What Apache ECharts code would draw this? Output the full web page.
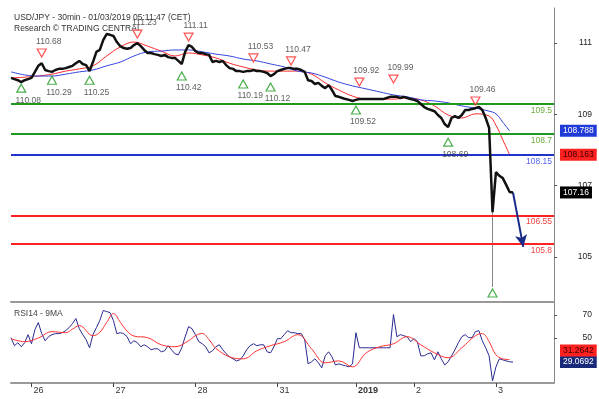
<!DOCTYPE html>
<html>
<head>
<meta charset="utf-8">
<script src="https://cdn.jsdelivr.net/npm/echarts@6/dist/echarts.min.js"></script>
<style>
	html, body { margin: 0; padding: 0; background: #fff; }
	#chart { width: 599px; height: 399px; }
</style>
</head>
<body>
<div id="chart"></div>
<script>
/* hourly bars, day boundaries on the time axis */
const barCount = 160;
const dayStart = [6, 30, 54, 78, 101, 118, 142];
const dayLabels = ['26', '27', '28', '31', '2019', '2', '3'];

/* USD/JPY closes */
const closes = [
	110.19, 110.16, 110.13, 110.08, 110.13, 110.16, 110.19, 110.35, 110.51, 110.58,
	110.40, 110.37, 110.35, 110.40, 110.43, 110.43, 110.45, 110.48, 110.51, 110.58,
	110.64, 110.56, 110.53, 110.37, 110.61, 110.88, 110.93, 111.19, 111.35, 111.33,
	111.30, 111.14, 111.03, 110.98, 110.96, 110.98, 111.06, 111.11, 111.03, 110.93,
	110.85, 110.85, 110.82, 110.80, 110.77, 110.80, 110.74, 110.72, 110.72, 110.64,
	110.56, 110.88, 111.06, 111.01, 110.90, 110.85, 110.85, 110.82, 110.80, 110.61,
	110.64, 110.61, 110.64, 110.53, 110.45, 110.43, 110.37, 110.37, 110.35, 110.37,
	110.37, 110.40, 110.37, 110.37, 110.35, 110.32, 110.24, 110.29, 110.37, 110.40,
	110.43, 110.45, 110.45, 110.43, 110.43, 110.40, 110.35, 110.13, 110.11, 110.03,
	110.06, 109.98, 109.92, 110.00, 109.87, 109.71, 109.69, 109.66, 109.63, 109.61,
	109.58, 109.61, 109.63, 109.63, 109.63, 109.63, 109.63, 109.63, 109.63, 109.63,
	109.66, 109.69, 109.69, 109.69, 109.66, 109.69, 109.66, 109.63, 109.61, 109.58,
	109.50, 109.42, 109.37, 109.34, 109.31, 109.21, 109.13, 108.97, 108.89, 109.13,
	109.18, 109.13, 109.21, 109.34, 109.34, 109.37, 109.39, 109.42, 109.34, 109.13,
	108.87, 106.64, 107.70, 107.60, 107.54, 107.36, 107.17, 107.16
];
/* flash crash wick */
const crashIdx = 141;
const crashLow = 104.66;

/* moving averages [bar, value] */
const maFast = [
	[0, 110.19], [4, 110.21], [8, 110.24], [12, 110.29], [16, 110.37], [20, 110.43],
	[24, 110.51], [28, 110.77], [32, 111.01], [36, 111.14], [40, 111.03], [44, 110.90],
	[48, 110.77], [52, 110.85], [56, 110.80], [60, 110.72], [64, 110.58], [68, 110.48],
	[72, 110.40], [76, 110.37], [80, 110.37], [84, 110.37], [88, 110.29], [92, 110.06],
	[96, 109.87], [100, 109.71], [104, 109.63], [108, 109.63], [112, 109.63], [116, 109.66],
	[120, 109.61], [124, 109.45], [128, 109.21], [132, 109.13], [136, 109.24], [140, 109.18],
	[142, 108.94], [144, 108.55], [146, 108.163]
];
const maSlow = [
	[0, 110.35], [4, 110.27], [8, 110.24], [12, 110.24], [16, 110.29], [20, 110.35],
	[24, 110.40], [28, 110.51], [32, 110.61], [36, 110.77], [40, 110.88], [44, 110.90],
	[48, 110.93], [52, 110.93], [56, 110.88], [60, 110.82], [64, 110.77], [68, 110.69],
	[72, 110.64], [76, 110.56], [80, 110.48], [84, 110.37], [88, 110.32], [92, 110.21],
	[96, 110.08], [100, 109.98], [104, 109.90], [108, 109.82], [112, 109.74], [116, 109.69],
	[120, 109.61], [124, 109.58], [128, 109.53], [132, 109.45], [136, 109.39], [140, 109.31],
	[142, 109.24], [144, 109.02], [146, 108.788]
];

/* RSI14 and its 9MA */
const rsi = [
	50.3, 43.3, 45.9, 42.4, 45.9, 52.9, 45.0, 57.3, 63.4, 53.8,
	47.6, 51.1, 52.9, 53.8, 53.8, 54.6, 56.4, 59.0, 62.5, 66.9,
	58.1, 52.9, 48.5, 41.5, 52.9, 59.0, 65.1, 73.9, 73.0, 72.1,
	65.1, 53.8, 54.6, 53.8, 51.1, 45.0, 47.6, 45.9, 42.4, 44.1,
	42.4, 39.8, 40.6, 40.6, 38.0, 38.9, 43.3, 39.8, 36.3, 35.4,
	41.5, 51.1, 59.9, 58.1, 52.9, 46.8, 45.0, 42.4, 37.1, 38.9,
	42.4, 44.1, 39.8, 36.3, 33.6, 31.9, 30.1, 31.0, 34.5, 39.8,
	43.3, 45.0, 43.3, 44.1, 44.1, 38.0, 37.1, 42.4, 49.4, 49.4,
	52.9, 56.4, 54.6, 54.6, 53.8, 53.8, 48.5, 27.5, 29.3, 31.9,
	28.4, 24.0, 34.5, 38.0, 33.6, 26.6, 27.5, 26.6, 25.8, 24.9,
	27.5, 54.6, 41.5, 41.5, 41.5, 41.5, 41.5, 41.5, 41.5, 41.5,
	41.5, 41.5, 70.4, 51.1, 52.9, 52.0, 51.1, 46.8, 49.4, 46.8,
	34.5, 34.5, 36.3, 37.1, 31.0, 38.0, 31.9, 26.6, 29.3, 34.5,
	39.8, 45.9, 51.1, 52.9, 50.3, 50.3, 55.5, 56.4, 47.6, 41.5,
	34.5, 12.6, 24.9, 31.9, 31.0, 30.1, 29.3, 29.07
];
const rsiMa = [
	[0, 49.4], [4, 46.8], [8, 50.0], [12, 55.5], [16, 54.6], [18, 57.7], [20, 60.8],
	[24, 52.0], [26, 54.9], [28, 63.4], [30, 71.2], [32, 63.7], [34, 56.0], [36, 51.7],
	[40, 50.3], [44, 44.1], [48, 42.4], [52, 47.6], [54, 52.0], [56, 53.9], [58, 48.5],
	[60, 41.0], [64, 33.6], [68, 31.9], [72, 38.9], [76, 43.3], [80, 46.8], [84, 52.9],
	[88, 40.6], [92, 28.4], [96, 30.1], [100, 24.9], [104, 37.1], [108, 42.4], [112, 45.0],
	[116, 51.1], [120, 44.1], [124, 37.1], [128, 32.8], [132, 41.5], [136, 52.0], [138, 53.8],
	[140, 46.8], [142, 35.4], [144, 31.9], [146, 31.26]
];

/* pivots: highs and lows */
const highIdx = [9, 37, 52, 71, 82, 102, 112, 136];
const highVal = [110.85, 111.35, 111.27, 110.72, 110.64, 110.08, 110.16, 109.58];
const highText = ['110.68', '111.23', '111.11', '110.53', '110.47', '109.92', '109.99', '109.46'];
const lowIdx = [3, 12, 23, 50, 68, 76, 101, 128, 141];
const lowVal = [109.92, 110.13, 110.13, 110.24, 110.03, 109.95, 109.34, 108.49, 104.50];
const lowText = ['110.08', '110.29', '110.25', '110.42', '110.19', '110.12', '109.52', '108.69', ''];

/* key levels */
const levels = [109.5, 108.7, 108.15, 106.55, 105.8];
const levelText = ['109.5', '108.7', '108.15', '106.55', '105.8'];
const levelKind = ['resist', 'resist', 'pivot', 'support', 'support'];

/* scenario arrow */
const forecastIdx = [147, 150];
const forecastVal = [107.16, 105.72];

/* last values shown on the right scale */
const lastPrice = 107.16;
const lastFast = 108.163;
const lastSlow = 108.788;
const lastRsi = 29.0692;
const lastRsiMa = 31.2642;

/* price scale ticks and RSI ticks */
const priceTicks = [105, 107, 109, 111];
const rsiTicks = [50, 70];

const FONT = 'Liberation Sans, Arial, sans-serif';
const levelColors = {
	resist: { line: '#1f9a1f', text: '#6aaa3a' },
	pivot: { line: '#2233cc', text: '#5566ee' },
	support: { line: '#ff2222', text: '#ee4444' }
};

const categories = [];
for (let i = 0; i < barCount; i++) categories.push(String(i));
const isDayStart = idx => dayStart.indexOf(idx) >= 0;

const myChart = echarts.init(document.getElementById('chart'));

/* invisible line, only the label box on the right scale */
const hidden = { color: 'rgba(0,0,0,0)', width: 0 };
const tag = (text, bg, fg) => ({
	show: true,
	position: 'end',
	distance: 6,
	formatter: text,
	backgroundColor: bg,
	color: fg,
	fontSize: 8.5,
	fontFamily: FONT,
	padding: [2, 3, 1, 3]
});

const levelLines = levels.map((v, k) => ({
	yAxis: v,
	lineStyle: { color: levelColors[levelKind[k]].line, width: 2, type: 'solid' },
	label: {
		show: true,
		position: 'insideEndBottom',
		distance: 2,
		formatter: levelText[k],
		color: levelColors[levelKind[k]].text,
		fontSize: 8.5,
		fontFamily: FONT
	}
}));

const option = {
	animation: false,
	textStyle: { fontFamily: FONT },
	title: [
		{ text: 'USD/JPY - 30min - 01/03/2019 05:11:47 (CET)', left: 9, top: 8,
			textStyle: { fontSize: 8.5, fontWeight: 'normal', color: '#333' } },
		{ text: 'Research © TRADING CENTRAL', left: 9, top: 19,
			textStyle: { fontSize: 8.5, fontWeight: 'normal', color: '#333' } },
		{ text: 'RSI14 - 9MA', left: 9, top: 304,
			textStyle: { fontSize: 8.5, fontWeight: 'normal', color: '#444' } }
	],
	grid: [
		{ left: 11, right: 45, top: 8, height: 294 },
		{ left: 11, right: 45, top: 302, height: 81 }
	],
	xAxis: [{
		type: 'category',
		gridIndex: 0,
		data: categories,
		boundaryGap: false,
		axisLine: { lineStyle: { color: '#999', width: 2 } },
		axisTick: { show: false },
		axisLabel: { show: false }
	}, {
		type: 'category',
		gridIndex: 1,
		data: categories,
		boundaryGap: false,
		axisLine: { lineStyle: { color: '#999', width: 2 } },
		axisTick: {
			show: true,
			interval: idx => isDayStart(idx),
			length: 4,
			lineStyle: { color: '#444' }
		},
		axisLabel: {
			interval: idx => isDayStart(idx),
			formatter: (val, idx) => {
				const k = dayStart.indexOf(idx);
				if (k < 0) return '';
				return dayLabels[k] === '2019' ? '{b|2019}' : dayLabels[k];
			},
			align: 'left',
			margin: 3,
			padding: [0, 0, 0, 2],
			fontSize: 9,
			color: '#333',
			rich: { b: { fontWeight: 'bold', fontSize: 9, color: '#333' } }
		}
	}],
	yAxis: [{
		/* data scale of the price panel */
		type: 'value',
		gridIndex: 0,
		position: 'right',
		min: 104.262,
		max: 112.04,
		show: false
	}, {
		/* printed price scale */
		type: 'value',
		gridIndex: 0,
		position: 'right',
		min: 103.738,
		max: 111.981,
		splitLine: { show: false },
		axisLine: { show: true, lineStyle: { color: '#888' } },
		axisTick: { show: true, length: 3, customValues: priceTicks, lineStyle: { color: '#555' } },
		axisLabel: { customValues: priceTicks, align: 'right', margin: 38, fontSize: 8.5, color: '#222' }
	}, {
		type: 'value',
		gridIndex: 1,
		position: 'right',
		min: 10.87,
		max: 81.3,
		splitLine: { show: false },
		axisLine: { show: true, lineStyle: { color: '#888' } },
		axisTick: { show: true, length: 3, customValues: rsiTicks, lineStyle: { color: '#555' } },
		axisLabel: { customValues: rsiTicks, align: 'right', margin: 38, fontSize: 8.5, color: '#222' }
	}],
	series: [{
		name: 'MA fast',
		type: 'line',
		xAxisIndex: 0,
		yAxisIndex: 0,
		data: maFast,
		smooth: 0.4,
		symbol: 'none',
		lineStyle: { color: '#ff2a2a', width: 1 },
		markLine: {
			silent: true,
			symbol: 'none',
			data: [{ yAxis: lastFast, lineStyle: hidden, label: tag('108.163', '#ff2020', '#3a0000') }]
		},
		z: 3
	}, {
		name: 'MA slow',
		type: 'line',
		xAxisIndex: 0,
		yAxisIndex: 0,
		data: maSlow,
		smooth: 0.4,
		symbol: 'none',
		lineStyle: { color: '#3344dd', width: 1 },
		markLine: {
			silent: true,
			symbol: 'none',
			data: [{ yAxis: lastSlow, lineStyle: hidden, label: tag('108.788', '#1f3ad6', '#fff') }]
		},
		z: 3
	}, {
		name: 'wick',
		type: 'line',
		xAxisIndex: 0,
		yAxisIndex: 0,
		data: [[crashIdx, closes[crashIdx]], [crashIdx, crashLow]],
		symbol: 'none',
		lineStyle: { color: '#888', width: 1 },
		z: 4
	}, {
		name: 'USD/JPY',
		type: 'line',
		xAxisIndex: 0,
		yAxisIndex: 0,
		data: closes,
		symbol: 'none',
		lineStyle: { color: '#111', width: 2.5 },
		markLine: {
			silent: true,
			symbol: 'none',
			data: levelLines.concat([
				{ yAxis: lastPrice, lineStyle: hidden, label: tag('107.16', '#000', '#fff') },
				[
					{ coord: [forecastIdx[0], forecastVal[0]], symbol: 'none' },
					{ coord: [forecastIdx[1], forecastVal[1]], symbol: 'arrow', symbolSize: [9, 12],
						lineStyle: { color: '#1a2a88', width: 2, type: 'solid' }, label: { show: false } }
				]
			])
		},
		z: 5
	}, {
		name: 'highs',
		type: 'scatter',
		xAxisIndex: 0,
		yAxisIndex: 0,
		symbol: 'path://M0,0L10,0L5,9Z',
		symbolSize: [9, 8],
		itemStyle: { color: '#fff', borderColor: '#ff2a2a', borderWidth: 1.2 },
		label: {
			show: true,
			position: 'top',
			distance: 2,
			offset: [7, 0],
			fontSize: 8.5,
			color: '#333',
			formatter: p => highText[p.dataIndex]
		},
		data: highIdx.map((x, k) => [x, highVal[k]]),
		z: 6
	}, {
		name: 'lows',
		type: 'scatter',
		xAxisIndex: 0,
		yAxisIndex: 0,
		symbol: 'triangle',
		symbolSize: [9, 8],
		itemStyle: { color: '#fff', borderColor: '#1f9a1f', borderWidth: 1.2 },
		label: {
			show: true,
			position: 'bottom',
			distance: 3,
			offset: [7, 0],
			fontSize: 8.5,
			color: '#333',
			formatter: p => lowText[p.dataIndex]
		},
		data: lowIdx.map((x, k) => [x, lowVal[k]]),
		z: 6
	}, {
		name: 'RSI14',
		type: 'line',
		xAxisIndex: 1,
		yAxisIndex: 2,
		data: rsi,
		symbol: 'none',
		lineStyle: { color: '#2a2a90', width: 1 },
		markLine: {
			silent: true,
			symbol: 'none',
			data: [{ yAxis: lastRsi, lineStyle: hidden, label: tag('29.0692', '#1a2a7a', '#fff') }]
		},
		z: 4
	}, {
		name: '9MA',
		type: 'line',
		xAxisIndex: 1,
		yAxisIndex: 2,
		data: rsiMa,
		smooth: 0.4,
		symbol: 'none',
		lineStyle: { color: '#ff3030', width: 1 },
		markLine: {
			silent: true,
			symbol: 'none',
			data: [{
				yAxis: lastRsiMa,
				lineStyle: hidden,
				label: {
					show: true,
					position: 'end',
					distance: 6,
					formatter: '{t|31.2642}\n{s| }',
					rich: {
						t: { backgroundColor: '#ff2020', color: '#3a0000', fontSize: 8.5, padding: [2, 3, 1, 3] },
						s: { height: 18, fontSize: 1 }
					}
				}
			}]
		},
		z: 5
	}]
};

myChart.setOption(option);
</script>
</body>
</html>
